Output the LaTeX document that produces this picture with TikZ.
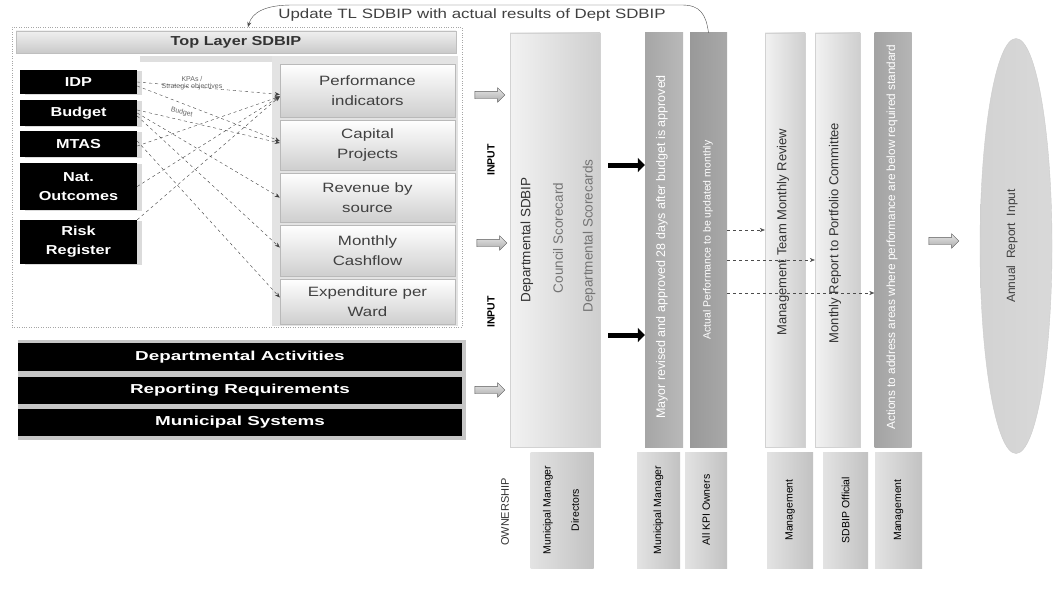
\documentclass[tikz,border=0pt]{standalone}
\usepackage{fontspec}
\setmainfont{Liberation Sans}
\newfontfamily\widefont[FakeStretch=1.25]{Liberation Sans}
\newfontfamily\xwidefont[FakeStretch=1.45]{Liberation Sans}
\usetikzlibrary{shapes.arrows,shapes.geometric,arrows.meta,shadows}

\tikzset{
  blackbox/.style={fill=black, text=white, font=\widefont\bfseries\fontsize{13}{19}\selectfont,
    align=center, inner sep=0pt, minimum width=117pt,
    drop shadow={shadow xshift=5pt, shadow yshift=-1pt, fill=gray!55}},
  stackbox/.style={draw=gray!55, top color=white, bottom color=gray!38,
    font=\widefont\fontsize{13.5}{20}\selectfont, text=black!75, align=center,
    inner sep=0pt, minimum width=175pt},
  barbox/.style={fill=black, text=white, font=\xwidefont\bfseries\fontsize{13}{15}\selectfont,
    minimum width=444pt, inner sep=0pt},
  hollow/.style={single arrow, draw=gray!70!black, top color=gray!20, bottom color=gray!65,
    inner xsep=0pt, inner ysep=3.5pt, single arrow head extend=3.5pt, minimum height=30pt},
  colbox/.style={minimum width=#1, minimum height=414pt, inner sep=0pt},
  lightcol/.style={left color=gray!10, right color=gray!38, draw=gray!35},
  vtext/.style={rotate=90, font=\fontsize{#1}{#1}\selectfont, inner sep=0pt},
  ownbox/.style={left color=gray!22, right color=gray!48, minimum height=116pt, inner sep=0pt},
  flow/.style={draw=black!75, dash pattern=on 3pt off 3pt, thin, -{Stealth[length=5pt,width=4pt]}},
  feed/.style={draw=black!70, dash pattern=on 3pt off 3pt, thin, -{Stealth[length=5pt,width=4pt]}},
  push/.style={line width=5pt, -{Triangle[length=7pt,width=14pt]}},
}

\begin{document}
\begin{tikzpicture}[x=1pt, y=-1pt]
\useasboundingbox (0,0) rectangle (1056,602);
\fill[white] (0,0) rectangle (1056,602);

% ---------- Top Layer SDBIP panel ----------
\node[draw=gray!70, dotted, minimum width=450pt, minimum height=300pt, inner sep=0pt] (frame) at (237,177) {};
\node[top color=gray!12, bottom color=gray!42, draw=gray!50, minimum width=440pt, minimum height=22pt,
      inner sep=0pt, font=\widefont\bfseries\fontsize{13}{15}\selectfont, text=black!80] (tlhead) at (236,42) {Top Layer SDBIP};
\fill[gray!25] (140,56) rectangle (458,62);
\fill[gray!22] (272,56) rectangle (458,326);

\node[blackbox, minimum height=24pt] (idp) at (78.5,82) {IDP};
\node[blackbox, minimum height=26pt] (budget) at (78.5,113) {Budget};
\node[blackbox, minimum height=26pt] (mtas) at (78.5,144) {MTAS};
\node[blackbox, minimum height=47pt] (natout) at (78.5,186.5) {Nat.\\Outcomes};
\node[blackbox, minimum height=44pt] (risk) at (78.5,242) {Risk\\Register};

\node[stackbox, minimum height=53pt] (perf) at (367.5,90.5) {Performance\\indicators};
\node[stackbox, minimum height=50pt] (capital) at (367.5,145) {Capital\\Projects};
\node[stackbox, minimum height=49pt] (revenue) at (367.5,197.5) {Revenue by\\source};
\node[stackbox, minimum height=51pt] (cashflow) at (367.5,250.5) {Monthly\\Cashflow};
\node[stackbox, minimum height=45pt] (expend) at (367.5,301.5) {Expenditure per\\Ward};

% links between the sources and the SDBIP components
\draw[flow] (idp.east) -- ([yshift=-4pt]perf.west);
\draw[flow] ([yshift=-4pt]idp.east) -- ([yshift=4pt]capital.west);
\draw[flow] ([yshift=3pt]budget.east) -- ([yshift=2pt]capital.west);
\draw[flow] (budget.east) -- (revenue.west);
\draw[flow] ([yshift=-3pt]budget.east) -- ([yshift=3pt]cashflow.west);
\draw[flow] ([yshift=3pt]mtas.east) -- ([yshift=4pt]expend.west);
\draw[flow] ([yshift=-2pt]mtas.east) -- ([yshift=-6pt]perf.west);
\draw[flow] (natout.east) -- ([yshift=-6pt]perf.west);
\draw[flow] (risk.north east) -- ([yshift=-6pt]perf.west);
\node[font=\fontsize{7}{7.5}\selectfont, text=black!60, align=center] (kpa) at (192,83) {KPAs /\\Strategic objectives};
\path ([yshift=3pt]budget.east) -- ([yshift=2pt]capital.west)
  node[sloped, pos=0.3, above=1pt, font=\fontsize{7}{7.5}\selectfont, text=black!60] (budlbl) {Budget};

% ---------- departmental inputs ----------
\fill[gray!45] (18,340) rectangle (466,440);
\node[barbox, minimum height=28pt] (deptact) at (240,357) {Departmental Activities};
\node[barbox, minimum height=27pt] (reporting) at (240,390.5) {Reporting Requirements};
\node[barbox, minimum height=27pt] (munsys) at (240,422.5) {Municipal Systems};

\node[hollow] (in1) at (488,95) {};
\node[hollow] (in2) at (490,243) {};
\node[hollow] (in3) at (488,390) {};
\node[vtext=10, font=\bfseries\fontsize{10.5}{10.5}\selectfont] (inputA) at (491,160) {INPUT};
\node[vtext=10, font=\bfseries\fontsize{10.5}{10.5}\selectfont] (inputB) at (491,312) {INPUT};

% ---------- process columns ----------
\node[colbox=90, lightcol] (dept) at (555,240) {};
\node[vtext=13.5, text=black!80] (deptA) at (527,240) {Departmental SDBIP};
\node[vtext=13.5, text=black!55] (deptB) at (558,238) {Council Scorecard};
\node[vtext=13.5, text=black!55] (deptC) at (589,236) {Departmental Scorecards};

\node[colbox=38, left color=gray!70, right color=gray!55] (mayor) at (664,240) {};
\node[vtext=12.5, text=white] (mayorT) at (662,247) {Mayor revised and approved 28 days after budget is approved};
\node[colbox=37, left color=gray!80, right color=gray!68] (actual) at (708.5,240) {};
\node[vtext=10.5, text=white] (actualT) at (708,240) {Actual Performance to be updated monthly};

\node[colbox=40, lightcol] (mgmt) at (785,240) {};
\node[vtext=13, text=black!80] (mgmtT) at (783,232) {Management Team Monthly Review};
\node[colbox=45, lightcol] (report) at (837.5,240) {};
\node[vtext=13, text=black!80] (reportT) at (835,233) {Monthly Report to Portfolio Committee};
\node[colbox=37, left color=gray!72, right color=gray!58] (actions) at (893,240) {};
\node[vtext=11.8, text=white] (actionsT) at (892,237) {Actions to address areas where performance are below required standard};

\coordinate (pa1) at (0,165);
\coordinate (pa2) at (0,335);
\draw[push, shorten <=8pt] (dept.east |- pa1) -- (mayor.west |- pa1);
\draw[push, shorten <=8pt] (dept.east |- pa2) -- (mayor.west |- pa2);

\coordinate (f1) at (0,230);
\coordinate (f2) at (0,260);
\coordinate (f3) at (0,293);
\draw[feed] (actual.east |- f1) -- (mgmt.west |- f1);
\draw[feed] (actual.east |- f2) -- (report.west |- f2);
\draw[feed] (actual.east |- f3) -- (actions.west |- f3);

\node[hollow] (out) at (942,241) {};
\node[ellipse, minimum width=72pt, minimum height=415pt, inner sep=0pt,
      left color=gray!35, middle color=gray!12, right color=gray!30, draw=gray!40] (annual) at (1016,246) {};
\node[vtext=12, text=black!75] (annualT) at (1012,246) {Annual\ \ Report\ \ Input};

% ---------- ownership ----------
\node[vtext=11, text=black!80] (ownlbl) at (505,512) {OWNERSHIP};
\node[ownbox, minimum width=63pt] (own1) at (562,510) {};
\node[vtext=10.5] (own1a) at (548,510) {Municipal Manager};
\node[vtext=10.5] (own1b) at (575,510) {Directors};
\node[ownbox, minimum width=43pt] (own2) at (658.5,510) {};
\node[vtext=10.5] (own2a) at (658.5,510) {Municipal Manager};
\node[ownbox, minimum width=42pt] (own3) at (706,510) {};
\node[vtext=10.5] (own3a) at (706,510) {All KPI Owners};
\node[ownbox, minimum width=46pt] (own4) at (790,510) {};
\node[vtext=10.5] (own4a) at (790,510) {Management};
\node[ownbox, minimum width=45pt] (own5) at (845.5,510) {};
\node[vtext=10.5] (own5a) at (845.5,510) {SDBIP Official};
\node[ownbox, minimum width=47pt] (own6) at (898.5,510) {};
\node[vtext=10.5] (own6a) at (898.5,510) {Management};

% ---------- feedback to the top layer ----------
\coordinate (tl) at (248,27);
\draw[thin, black!70, -{Stealth[length=5pt,width=4pt]}]
  (actual.north) .. controls (706,14) and (700,5) .. (682,5) -- (292,5) .. controls (264,5) and (252,13) .. (tl);
\node[font=\widefont\fontsize{13.5}{15}\selectfont, text=black!75, fill=white, inner sep=1pt] (upd) at (472,15)
  {Update TL SDBIP with actual results of Dept SDBIP};
\end{tikzpicture}
\end{document}
